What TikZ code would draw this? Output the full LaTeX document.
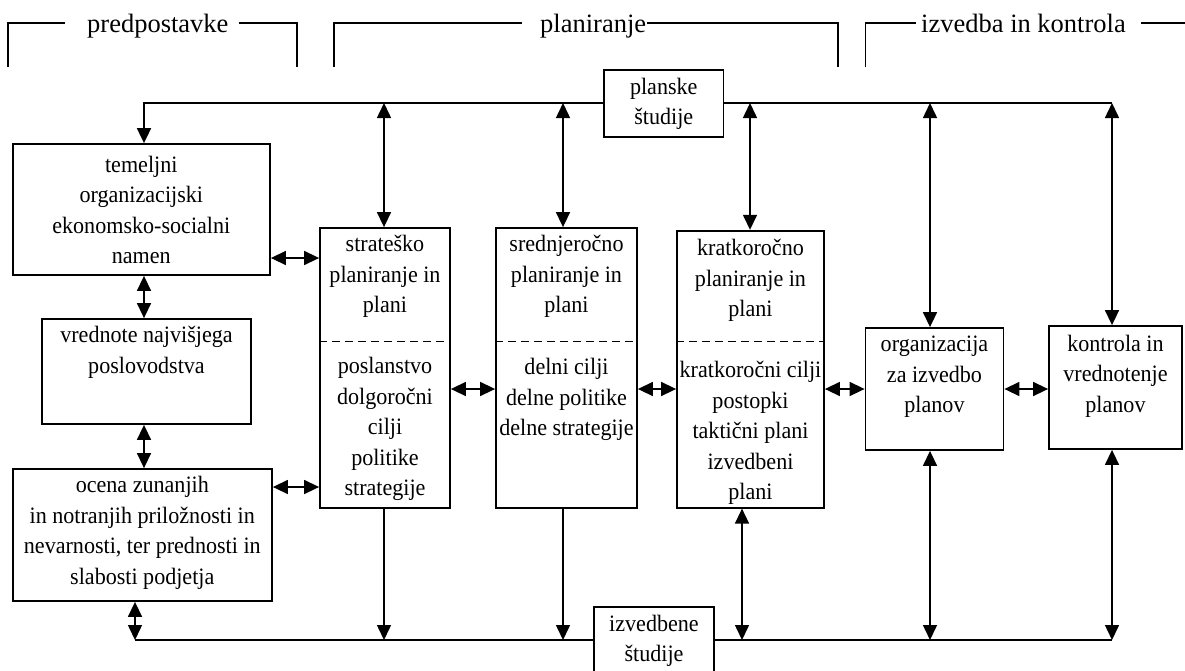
\documentclass[tikz,border=0pt]{standalone}
\usepackage{fontspec}
\setmainfont{Liberation Serif}
\newfontfamily\boxfont{Liberation Serif}[FakeStretch=0.94]
\usetikzlibrary{arrows.meta}

\begin{document}
\begin{tikzpicture}[x=1pt,y=-1pt,
  >={Triangle[length=15pt,width=14pt]},
  box/.style={draw, line width=1.8pt, inner sep=0pt},
  txt/.style={align=center, inner sep=0pt, font={\boxfont\fontsize{23.5}{30.5}\selectfont}},
  head/.style={inner sep=0pt, anchor=base west, font={\fontsize{26.5}{30}\selectfont}},
  link/.style={line width=1.5pt},
  bus/.style={line width=1.8pt},
  bracket/.style={line width=1.5pt},
  sep/.style={line width=1.5pt, dash pattern=on 8pt off 5pt}]

\useasboundingbox (0,0) rectangle (1185,670);

% ---- section headings with their brackets
\node[head] (hp)  at (87,32)  {predpostavke};
\node[head] (hpl) at (540,32) {planiranje};
\node[head] (hiz) at (921,32) {izvedba in kontrola};

\coordinate (p1) at (8,67);     \coordinate (p2) at (65,23);
\coordinate (p3) at (239,23);   \coordinate (p4) at (297,67);
\coordinate (q1) at (334,67);   \coordinate (q2) at (522,23);
\coordinate (q3) at (647,23);   \coordinate (q4) at (838,67);
\coordinate (r1) at (865.5,67); \coordinate (r2) at (916,23);
\coordinate (r3) at (1141,23);  \coordinate (r4) at (1185,23);
\draw[bracket] (p1) |- (p2);
\draw[bracket] (p3) -| (p4);
\draw[bracket] (q1) |- (q2);
\draw[bracket] (q3) -| (q4);
\draw[bracket] (r1) |- (r2);
\draw[bracket] (r3) -- (r4);

% ---- boxes
\node[box, minimum width=257.4pt, minimum height=131pt]   (tem)   at (141.3,209.5) {};
\node[box, minimum width=209pt,   minimum height=105pt]   (vr)    at (146.5,371.5) {};
\node[box, minimum width=259.4pt, minimum height=132pt]   (oc)    at (142.3,535)   {};
\node[box, minimum width=130pt,   minimum height=279.7pt] (strat) at (385,367.85)  {};
\node[box, minimum width=141pt,   minimum height=279.7pt] (sred)  at (566.5,367.85){};
\node[box, minimum width=147pt,   minimum height=277pt]   (krat)  at (750.5,369.2) {};
\node[box, minimum width=138pt,   minimum height=122pt]   (org)   at (934.5,389)   {};
\node[box, minimum width=133pt,   minimum height=123pt]   (kon)   at (1115.5,387.5){};
\node[box, minimum width=119.5pt, minimum height=67pt]    (plan)  at (663.75,103.5){};
\node[box, minimum width=120pt,   minimum height=73pt]    (izv)   at (654,643.5)   {};

% ---- box texts
\node[txt] (tem-t)   at (141.3,210)   {temeljni\\organizacijski\\ekonomsko-socialni\\namen};
\node[txt] (vr-t)    at (146.5,352.5) {vrednote najvišjega\\poslovodstva};
\node[txt] (oc-t)    at (142.3,532.7) {ocena zunanjih\\in notranjih priložnosti in\\nevarnosti, ter prednosti in\\slabosti podjetja};
\node[txt] (strat-a) at (385,276.7)   {strateško\\planiranje in\\plani};
\node[txt] (strat-b) at (385,429)     {poslanstvo\\dolgoročni\\cilji\\politike\\strategije};
\node[txt] (sred-a)  at (566.5,276.7) {srednjeročno\\planiranje in\\plani};
\node[txt] (sred-b)  at (566.5,399.5) {delni cilji\\delne politike\\delne strategije};
\node[txt] (krat-a)  at (750.5,280.5) {kratkoročno\\planiranje in\\plani};
\node[txt] (krat-b)  at (750.5,433)   {kratkoročni cilji\\postopki\\taktični plani\\izvedbeni\\plani};
\node[txt] (org-t)   at (934.5,377)   {organizacija\\za izvedbo\\planov};
\node[txt] (kon-t)   at (1115.5,376.3){kontrola in\\vrednotenje\\planov};
\node[txt] (plan-t)  at (663.75,104)  {planske\\študije};
\node[txt] (izv-t)   at (654,641)     {izvedbene\\študije};

% ---- dashed dividers inside the planning boxes
\coordinate (ds) at (0,341.7);
\draw[sep] (strat.west |- ds) -- (strat.east |- ds);
\draw[sep] (sred.west |- ds)  -- (sred.east |- ds);
\draw[sep] (krat.west |- ds)  -- (krat.east |- ds);

% ---- reference rows and columns for the connectors
\coordinate (topbus) at (0,103);
\coordinate (botbus) at (0,640);
\coordinate (rA) at (0,258);
\coordinate (rB) at (0,487);
\coordinate (rC) at (0,389);
\coordinate (c0) at (135,0);
\coordinate (c1) at (144,0);
\coordinate (c2) at (384,0);
\coordinate (c3) at (563,0);
\coordinate (c4) at (750,0);
\coordinate (c4b) at (742,0);
\coordinate (c5) at (930,0);
\coordinate (c6) at (1112,0);

% ---- upper bus from the planning studies
\draw[bus,->] (plan.west |- topbus) -| (c1 |- tem.north);
\draw[bus] (plan.east |- topbus) -- (c6 |- topbus);
\draw[link,<->] (c2 |- topbus) -- (c2 |- strat.north);
\draw[link,<->] (c3 |- topbus) -- (c3 |- sred.north);
\draw[link,<->] (c4 |- topbus) -- (c4 |- krat.north);
\draw[link,<->] (c5 |- topbus) -- (c5 |- org.north);
\draw[link,<->] (c6 |- topbus) -- (c6 |- kon.north);

% ---- lower bus to the execution studies
\draw[bus] (c0 |- botbus) -- (izv.west |- botbus);
\draw[bus] (izv.east |- botbus) -- (c6 |- botbus);
\draw[link,<->] (c0 |- oc.south) -- (c0 |- botbus);
\draw[link,->]  (c2 |- strat.south) -- (c2 |- botbus);
\draw[link,->]  (c3 |- sred.south) -- (c3 |- botbus);
\draw[link,<->] (c4b |- krat.south) -- (c4b |- botbus);
\draw[link,<->] (c5 |- org.south) -- (c5 |- botbus);
\draw[link,<->] (c6 |- kon.south) -- (c6 |- botbus);

% ---- links between neighbouring boxes
\draw[link,<->] (c1 |- tem.south) -- (c1 |- vr.north);
\draw[link,<->] (c1 |- vr.south) -- (c1 |- oc.north);
\draw[link,<->] (tem.east |- rA) -- (strat.west |- rA);
\draw[link,<->] (oc.east |- rB) -- (strat.west |- rB);
\draw[link,<->] (strat.east |- rC) -- (sred.west |- rC);
\draw[link,<->] (sred.east |- rC) -- (krat.west |- rC);
\draw[link,<->] (krat.east |- rC) -- (org.west |- rC);
\draw[link,<->] (org.east |- rC) -- (kon.west |- rC);

\end{tikzpicture}
\end{document}
